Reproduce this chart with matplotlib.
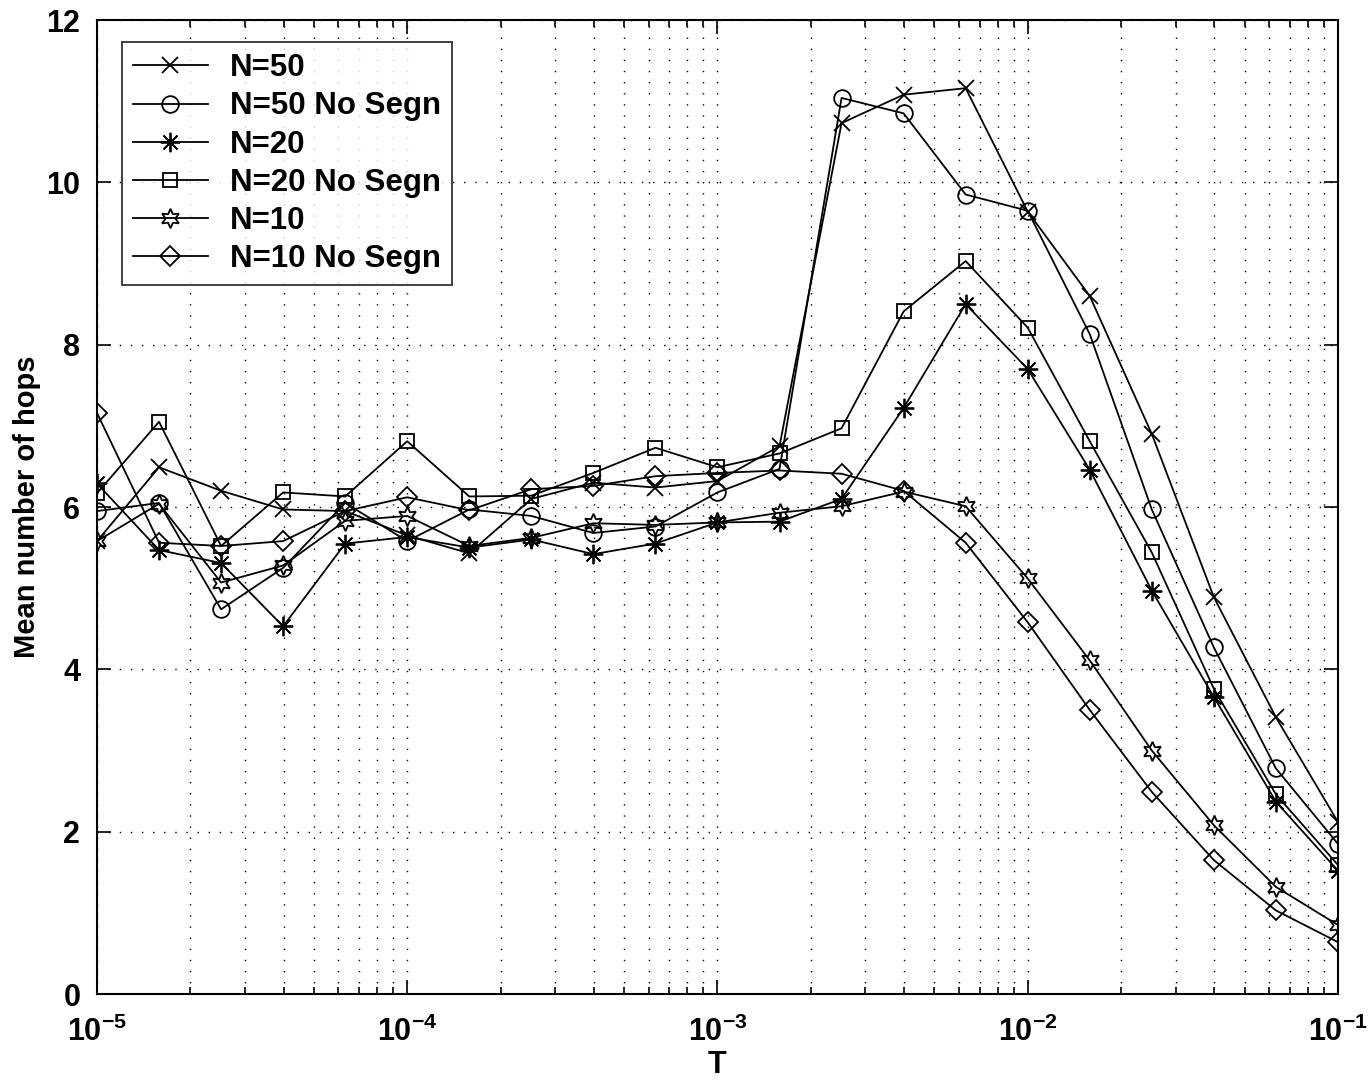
import numpy as np
import matplotlib
matplotlib.use("Agg")
from matplotlib import pyplot as plt
from matplotlib.ticker import LogLocator, FuncFormatter, NullFormatter

# fonts, MATLAB-like bold
plt.rcParams['font.family'] = ['Liberation Sans', 'DejaVu Sans']
plt.rcParams['font.weight'] = 'bold'
plt.rcParams['mathtext.fontset'] = 'custom'
plt.rcParams['mathtext.rm'] = 'Liberation Sans:bold'
plt.rcParams['mathtext.bf'] = 'Liberation Sans:bold'
plt.rcParams['mathtext.it'] = 'Liberation Sans:bold'

# T values: 10^-5 ... 10^-1 in steps of 0.2 decade
T = 10 ** np.arange(-5, -0.99, 0.2)

n50 = [5.58, 6.49, 6.20, 5.97, 5.95, 5.65, 5.43, 6.10, 6.30, 6.24, 6.32,
       6.75, 10.73, 11.08, 11.16, 9.64, 8.60, 6.90, 4.89, 3.41, 2.12]
n50_noseg = [5.95, 6.05, 4.74, 5.25, 6.05, 5.58, 5.97, 5.89, 5.68, 5.76, 6.18,
             6.47, 11.04, 10.85, 9.85, 9.65, 8.13, 5.97, 4.27, 2.78, 1.85]
n20 = [6.29, 5.47, 5.31, 4.53, 5.55, 5.63, 5.50, 5.60, 5.42, 5.55, 5.81,
       5.82, 6.10, 7.22, 8.50, 7.70, 6.46, 4.97, 3.66, 2.37, 1.52]
n20_noseg = [6.17, 7.05, 5.52, 6.18, 6.13, 6.81, 6.13, 6.14, 6.42, 6.73, 6.49,
             6.66, 6.97, 8.41, 9.03, 8.21, 6.81, 5.44, 3.76, 2.46, 1.59]
n10 = [5.58, 6.04, 5.07, 5.28, 5.83, 5.89, 5.52, 5.62, 5.80, 5.78, 5.81,
       5.93, 6.01, 6.19, 6.01, 5.12, 4.11, 3.00, 2.08, 1.32, 0.85]
n10_noseg = [7.16, 5.56, 5.52, 5.58, 5.95, 6.12, 5.96, 6.22, 6.26, 6.38, 6.42,
             6.45, 6.41, 6.20, 5.56, 4.58, 3.50, 2.49, 1.65, 1.03, 0.64]

labels = ["N=50", "N=50 No Segn", "N=20", "N=20 No Segn", "N=10", "N=10 No Segn"]
series = [n50, n50_noseg, n20, n20_noseg, n10, n10_noseg]
markers = ['x', 'o', (8, 2, 0), 's', (6, 1, 0), 'D']
msizes = [11, 12, 14, 10, 14, 10]

fig = plt.figure(figsize=(13.7, 10.82), dpi=100)
ax = fig.add_axes([0.0708, 0.0813, 0.9058, 0.9002])

for y, lab, m, ms in zip(series, labels, markers, msizes):
    ax.plot(T, y, color='black', linewidth=1.3, marker=m, markersize=ms,
            markerfacecolor='none', markeredgecolor='black',
            markeredgewidth=1.3, label=lab)

ax.set_xscale('log')
ax.set_xlim(1e-5, 1e-1)
ax.set_ylim(0, 12)
ax.set_yticks(range(0, 13, 2))
ax.xaxis.set_major_locator(LogLocator(base=10, numticks=10))
ax.xaxis.set_minor_locator(LogLocator(base=10, subs=np.arange(2, 10), numticks=50))
ax.xaxis.set_minor_formatter(NullFormatter())
ax.xaxis.set_major_formatter(FuncFormatter(
    lambda v, p: r'$\mathbf{10^{%d}}$' % int(round(np.log10(v)))))

ax.grid(True, which='major', axis='both', color='black',
        linestyle=(0, (1, 7)), linewidth=1.0)
ax.grid(True, which='minor', axis='x', color='black',
        linestyle=(0, (1, 7)), linewidth=1.0)

ax.tick_params(which='both', direction='in', top=True, right=True,
               labelsize=22, width=1.2)
ax.tick_params(which='major', length=10)
ax.tick_params(axis='x', which='major', pad=16)
ax.tick_params(axis='y', which='major', pad=12)
ax.tick_params(which='minor', length=5)
for s in ax.spines.values():
    s.set_linewidth(1.5)

ax.set_xlabel('T', fontsize=22, fontweight='bold', labelpad=2)
ax.set_ylabel('Mean number of hops', fontsize=21, fontweight='bold', labelpad=4)

leg = ax.legend(loc='upper left', bbox_to_anchor=(0.02, 0.977), fontsize=22.5,
                frameon=True, fancybox=False, edgecolor='black',
                handlelength=2.4, labelspacing=0.26, borderpad=0.35,
                handletextpad=0.7, borderaxespad=0.0)
leg.get_frame().set_linewidth(1.3)
for t in leg.get_texts():
    t.set_fontweight('bold')

fig.savefig('out.png', dpi=100, facecolor='white')
